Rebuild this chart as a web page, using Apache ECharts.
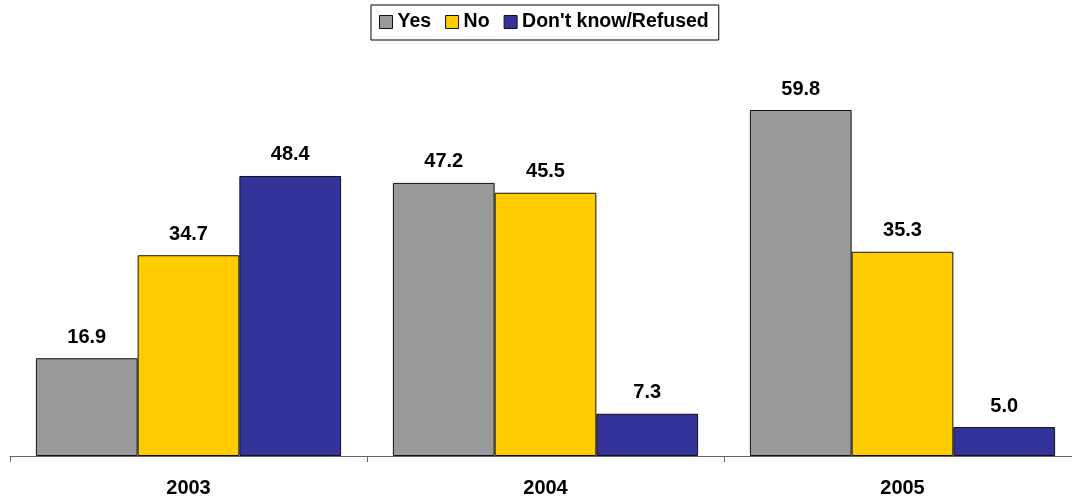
<!DOCTYPE html>
<html>
<head>
<meta charset="utf-8">
<script src="https://cdn.jsdelivr.net/npm/echarts@6/dist/echarts.min.js"></script>
<style>
  html, body { margin: 0; padding: 0; background: #fff; }
  #chart { width: 1072px; height: 497px; }
</style>
</head>
<body>
<div id="chart"></div>
<script>
// Survey answers by year (percent)
const years = ['2003', '2004', '2005'];
const yesValues = [16.9, 47.2, 59.8];
const noValues = [34.7, 45.5, 35.3];
const dkValues = [48.4, 7.3, 5.0];
const seriesNames = ['Yes', 'No', "Don't know/Refused"];
const seriesColors = ['#999999', '#FFCC00', '#333399'];

const FONT = '"Liberation Sans", Arial, sans-serif';

const chart = echarts.init(document.getElementById('chart'), null, { renderer: 'canvas' });

function barSeries(name, data, color) {
  return {
    name: name,
    type: 'bar',
    data: data,
    barGap: '0%',
    barCategoryGap: '14.5%',
    itemStyle: { color: color, borderColor: '#111', borderWidth: 1 },
    label: {
      show: true,
      position: 'top',
      distance: 11,
      formatter: p => p.value.toFixed(1),
      color: '#000',
      fontFamily: FONT,
      fontWeight: 'bold',
      fontSize: 20
    }
  };
}

chart.setOption({
  animation: false,
  backgroundColor: '#fff',
  legend: {
    top: 5,
    left: 371,
    data: seriesNames,
    icon: 'rect',
    itemWidth: 13,
    itemHeight: 13,
    itemGap: 14,
    padding: [7, 10, 8, 8],
    borderColor: '#000',
    borderWidth: 1,
    textStyle: { fontFamily: FONT, fontWeight: 'bold', fontSize: 19.5, color: '#000' },
    itemStyle: { borderColor: '#111', borderWidth: 1 }
  },
  // the last category runs a little past the right edge of the page
  grid: { left: 10, top: 51, right: -9, bottom: 41, containLabel: false, outerBoundsMode: 'none' },
  xAxis: {
    type: 'category',
    data: years,
    axisLine: { lineStyle: { color: '#666', width: 1 } },
    axisTick: { show: true, length: 6, inside: false, lineStyle: { color: '#666' } },
    axisLabel: {
      margin: 22,
      color: '#000',
      fontFamily: FONT,
      fontWeight: 'bold',
      fontSize: 20
    }
  },
  yAxis: {
    type: 'value',
    min: 0,
    max: 70,
    show: false,
    splitLine: { show: false }
  },
  series: [
    barSeries(seriesNames[0], yesValues, seriesColors[0]),
    barSeries(seriesNames[1], noValues, seriesColors[1]),
    barSeries(seriesNames[2], dkValues, seriesColors[2])
  ]
});
</script>
</body>
</html>
